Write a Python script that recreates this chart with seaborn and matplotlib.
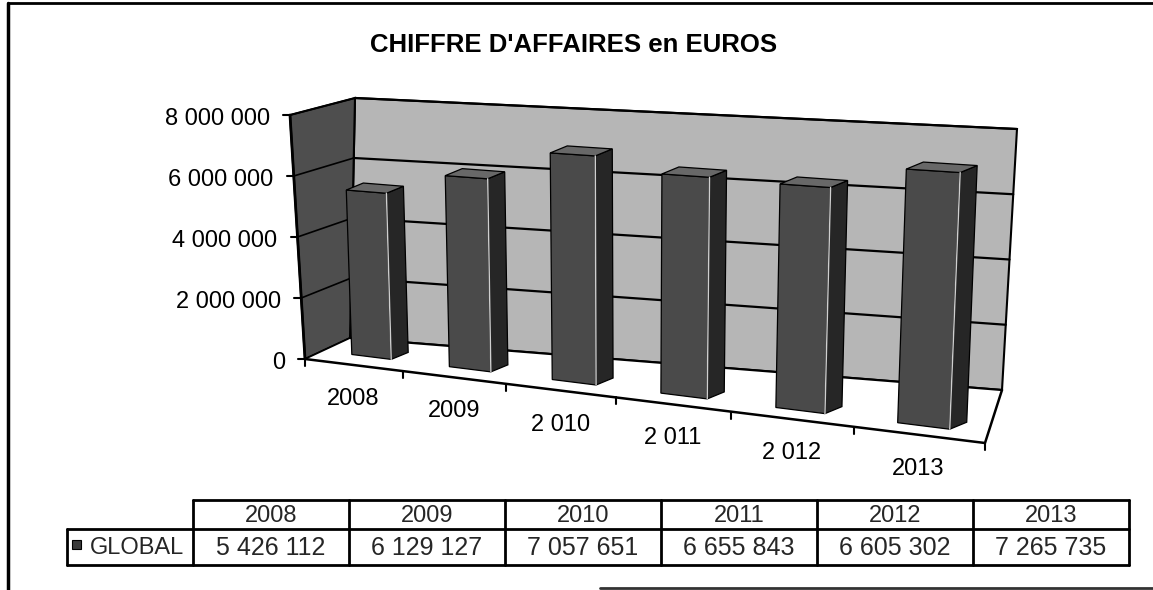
import numpy as np
import pandas as pd
import matplotlib
matplotlib.use("Agg")
import matplotlib.pyplot as plt
import seaborn as sns
from matplotlib.transforms import Transform, Affine2D
from matplotlib.patches import Polygon, Rectangle

# ---------------- data ----------------
years = ["2008", "2009", "2010", "2011", "2012", "2013"]
axis_labels = ["2008", "2009", "2 010", "2 011", "2 012", "2013"]
ca_global = [5426112, 6129127, 7057651, 6655843, 6605302, 7265735]
y_ticks = [0, 2000000, 4000000, 6000000, 8000000]
y_tick_labels = ["0", "2 000 000", "4 000 000", "6 000 000", "8 000 000"]
series_name = "GLOBAL"
title = "CHIFFRE D'AFFAIRES en EUROS"

# ---------------- style ----------------
sns.set_theme(style="white")
plt.rcParams["font.family"] = ["Liberation Sans", "DejaVu Sans"]

W, H = 1153, 590
fig = plt.figure(figsize=(W / 100, H / 100), dpi=100)
fig.patch.set_facecolor("white")


def homography(src, dst):
    A, b = [], []
    for (x, y), (u, v) in zip(src, dst):
        A.append([x, y, 1, 0, 0, 0, -u * x, -u * y]); b.append(u)
        A.append([0, 0, 0, x, y, 1, -v * x, -v * y]); b.append(v)
    h = np.linalg.solve(np.array(A, float), np.array(b, float))
    return np.append(h, 1.0).reshape(3, 3)


def proj(Hm, pts):
    pts = np.atleast_2d(np.asarray(pts, float))
    hom = np.c_[pts, np.ones(len(pts))] @ Hm.T
    return hom[:, :2] / hom[:, 2:3]


def edge_point(p_bottom, p_top, frac):
    p_bottom, p_top = np.asarray(p_bottom, float), np.asarray(p_top, float)
    return p_bottom + (p_top - p_bottom) * frac


class Projective(Transform):
    input_dims = 2
    output_dims = 2
    is_separable = False

    def __init__(self, Hm):
        super().__init__()
        self.Hm = Hm

    def transform_non_affine(self, values):
        return proj(self.Hm, values)


n = len(years)
vmax = y_ticks[-1] / 1e6
i0, i1 = -0.5, n - 0.5

# front plane of the bars (category / value in millions -> picture pixels)
H_bar = homography([(i0, 0), (i1, 0), (i1, vmax), (i0, vmax)],
                   [(324, 351), (988, 434), (1001, 148), (315, 108)])
# front edge of the floor (same perspective ratio as the bars' plane)
H_front = homography([(i0, 0), (i1, 0), (i1, 1), (i0, 1)],
                     [(305, 359), (985, 443), (985, 324), (305, 259)])

# wall / floor corners (picture pixels)
axis_bot, axis_top = (305, 359), (290, 115)
back_bl, back_tl = (350, 338), (355, 98)
back_br, back_tr = (1002, 390), (1017, 129)
floor_fr = (985, 443)

# ---------------- background layer: walls, floor, grid ----------------
bg = fig.add_axes([0, 0, 1, 1])
bg.set_xlim(0, W); bg.set_ylim(H, 0); bg.axis("off")

bg.add_patch(Polygon([back_bl, back_br, back_tr, back_tl], closed=True,
                     facecolor="#b6b6b6", edgecolor="black", lw=1.5))
bg.add_patch(Polygon([axis_bot, back_bl, back_tl, axis_top], closed=True,
                     facecolor="#4e4e4e", edgecolor="black", lw=1.5))
bg.add_patch(Polygon([axis_bot, floor_fr, back_br, back_bl], closed=True,
                     facecolor="white", edgecolor="none"))

for t in y_ticks:
    f = t / y_ticks[-1]
    pl, pr = edge_point(back_bl, back_tl, f), edge_point(back_br, back_tr, f)
    bg.plot([pl[0], pr[0]], [pl[1], pr[1]], color="black", lw=1.6)
    pa = edge_point(axis_bot, axis_top, f)
    bg.plot([pa[0], pl[0]], [pa[1], pl[1]], color="black", lw=1.2)

# value axis on front edge of left wall
bg.plot([axis_bot[0], axis_top[0]], [axis_bot[1], axis_top[1]], color="black", lw=2)
for t, lab in zip(y_ticks, y_tick_labels):
    a = edge_point(axis_bot, axis_top, t / y_ticks[-1])
    bg.plot([a[0] - 7, a[0]], [a[1], a[1]], color="black", lw=1.5)
    bg.text(a[0] - 20, a[1] + 4, lab, ha="right", va="center", fontsize=17, color="black")

# floor edges and category ticks/labels
bg.plot([axis_bot[0], floor_fr[0], back_br[0]], [axis_bot[1], floor_fr[1], back_br[1]],
        color="black", lw=1.8)
for k in range(n + 1):
    tp = proj(H_front, [(k - 0.5, 0)])[0]
    bg.plot([tp[0], tp[0]], [tp[1], tp[1] + 7], color="black", lw=1.5)
for k, lab in enumerate(axis_labels):
    cp = proj(H_front, [(k, 0)])[0]
    bg.text(cp[0], cp[1] + 34, lab, ha="center", va="center", fontsize=17, color="black")

# ---------------- bars (seaborn) ----------------
ax = fig.add_axes([0, 0, 1, 1])
df = pd.DataFrame({"annee": years, "ca": ca_global})
sns.barplot(data=df, x="annee", y="ca", ax=ax, color="#4a4a4a", saturation=1,
            width=0.41, edgecolor="black", linewidth=0.9, errorbar=None)
ax.axis("off")
ax.patch.set_alpha(0)
bar_tr = Affine2D().scale(1, 1e-6) + Projective(H_bar) + bg.transData

fg = fig.add_axes([0, 0, 1, 1])
fg.set_xlim(0, W); fg.set_ylim(H, 0); fg.axis("off")
fg.patch.set_alpha(0)

dv = np.array([17, -7])
for p in ax.patches:
    p.set_transform(bar_tr)
    p.set_clip_on(False)
    x, w, h = p.get_x(), p.get_width(), p.get_height() / 1e6
    BL, BR, TR, TL = proj(H_bar, [(x, 0), (x + w, 0), (x + w, h), (x, h)])
    fg.add_patch(Polygon([BR, TR, TR + dv, BR + dv], closed=True,
                         facecolor="#262626", edgecolor="black", lw=0.9))
    fg.add_patch(Polygon([TL, TR, TR + dv, TL + dv], closed=True,
                         facecolor="#686868", edgecolor="black", lw=0.9))
    fg.plot([BR[0], TR[0]], [BR[1], TR[1]], color="#cfcfcf", lw=1.0)

# ---------------- title ----------------
fg.text(574, 45, title, ha="center", va="center", fontsize=18.5, fontweight="bold", color="black")

# ---------------- data table ----------------
x_first, col_w, x_lab = 193, 156, 67
y_top, y_mid, y_bot = 500, 529, 565
x_end = x_first + col_w * n
lw_t = 2.0
fg.plot([x_first, x_end], [y_top, y_top], color="black", lw=lw_t)
fg.plot([x_lab, x_end], [y_mid, y_mid], color="black", lw=lw_t)
fg.plot([x_lab, x_end], [y_bot, y_bot], color="black", lw=lw_t)
fg.plot([x_lab, x_lab], [y_mid, y_bot], color="black", lw=lw_t)
for k in range(n + 1):
    xx = x_first + col_w * k
    fg.plot([xx, xx], [y_top, y_bot], color="black", lw=lw_t)
for k, (yr, val) in enumerate(zip(years, ca_global)):
    cx = x_first + col_w * (k + 0.5)
    fg.text(cx, (y_top + y_mid) / 2 + 1, yr, ha="center", va="center", fontsize=17)
    fg.text(cx, (y_mid + y_bot) / 2 + 1, f"{val:,}".replace(",", " "),
            ha="center", va="center", fontsize=18)
fg.add_patch(Rectangle((72, 540), 9, 9, facecolor="#3a3a3a", edgecolor="black", lw=0.8))
fg.text(90, (y_mid + y_bot) / 2 + 1, series_name, ha="left", va="center", fontsize=17)

# ---------------- outer frame ----------------
fg.plot([8, 8], [3, 590], color="black", lw=2.5)
fg.plot([8, 1153], [3, 3], color="black", lw=2)
fg.plot([600, 1153], [588, 588], color="#333333", lw=2)

fig.savefig("out.png", dpi=100)
